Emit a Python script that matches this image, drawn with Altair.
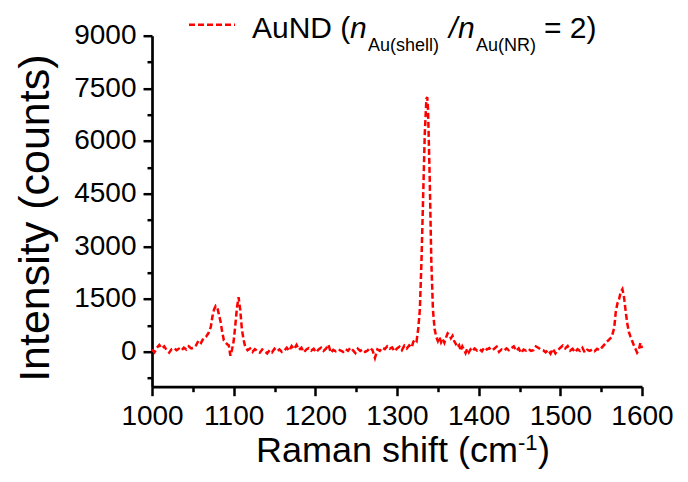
import altair as alt
import pandas as pd

# ---- data ----
raman_shift = [
    1000, 1003, 1006, 1009, 1012, 1015, 1018, 1021, 1024, 1027, 1030, 1033, 1036, 1039, 1042, 1045, 1048,
    1051, 1054, 1057, 1060, 1063, 1066, 1069, 1072, 1074, 1076, 1078, 1080, 1082, 1084, 1086, 1088, 1090,
    1092, 1094, 1096, 1098, 1100, 1102, 1104, 1106, 1108, 1110, 1112, 1114, 1117, 1120, 1123, 1126, 1129,
    1132, 1135, 1138, 1141, 1144, 1147, 1150, 1153, 1156, 1159, 1162, 1165, 1168, 1171, 1174, 1177, 1180,
    1183, 1186, 1189, 1192, 1195, 1198, 1201, 1204, 1207, 1210, 1213, 1216, 1219, 1222, 1225, 1228, 1231,
    1234, 1237, 1240, 1243, 1246, 1249, 1252, 1255, 1258, 1261, 1264, 1267, 1270, 1273, 1276, 1279, 1282,
    1285, 1288, 1291, 1294, 1297, 1300, 1303, 1306, 1309, 1312, 1315, 1318, 1320, 1322, 1324, 1326, 1328,
    1330, 1332, 1334, 1336, 1337, 1338, 1340, 1342, 1344, 1346, 1348, 1350, 1352, 1354, 1356, 1358, 1360,
    1362, 1364, 1366, 1368, 1370, 1372, 1374, 1376, 1378, 1380, 1382, 1384, 1386, 1388, 1390, 1392, 1395,
    1398, 1401, 1404, 1407, 1410, 1413, 1416, 1419, 1422, 1425, 1428, 1431, 1434, 1437, 1440, 1443, 1446,
    1449, 1452, 1455, 1458, 1461, 1464, 1467, 1470, 1473, 1476, 1479, 1482, 1485, 1488, 1491, 1494, 1497,
    1500, 1503, 1506, 1509, 1512, 1515, 1518, 1521, 1524, 1527, 1530, 1533, 1536, 1539, 1542, 1545, 1548,
    1551, 1554, 1557, 1560, 1563, 1566, 1568, 1570, 1572, 1574, 1576, 1578, 1580, 1582, 1584, 1586, 1588,
    1590, 1592, 1594, 1596, 1598, 1600,
]
intensity = [
    60, -20, 110, 190, 90, 150, 40, -30, 70, 100, 40, 80, 30, 110, 60, 150, 90,
    110, 180, 320, 250, 380, 420, 520, 700, 1000, 1200, 1300, 1250, 1050, 850, 550, 320, 260,
    210, 180, -120, 60, 300, 750, 1250, 1550, 1200, 650, 350, 150, 40, 90, -10, 70, 20,
    -30, 60, 10, -50, 40, -20, 80, 10, 60, -10, 30, 110, 20, 160, 70, 190, 50,
    110, -20, 60, 100, 30, 80, -20, 60, 110, 20, 80, 200, -30, 50, 10, 60, 30,
    -10, 70, 20, 110, 40, -40, 80, 20, 60, -10, 30, 110, 40, -180, 60, 20, 110,
    70, 150, 80, 120, 10, 90, 140, 40, 170, 90, 180, 120, 280, 350, 300, 650, 1200,
    2600, 4400, 6200, 7200, 7250, 6900, 5000, 2600, 1200, 650, 420, 300, 420, 260, 350, 250, 400,
    520, 480, 380, 450, 300, 220, 120, 180, 20, 150, 60, -40, 80, -20, 60, 0, 90,
    30, 70, 10, 120, 60, 100, 30, 80, 140, -10, 60, 20, 90, 40, 100, 150, 20,
    90, -40, 60, 30, 80, 20, 40, 150, 110, 60, 40, -20, 50, -60, 80, -50, 40,
    110, 170, 90, 160, 30, 80, -20, 70, 20, 110, -30, 50, 20, 60, 10, 80, 40,
    120, 200, 280, 350, 420, 680, 1150, 1380, 1500, 1700, 1780, 1550, 1150, 800, 550, 420, 300,
    180, 80, -30, 40, 250, 100,
]

x_major = [1000, 1100, 1200, 1300, 1400, 1500, 1600]
x_minor = [1050, 1150, 1250, 1350, 1450, 1550]
y_major = [0, 1500, 3000, 4500, 6000, 7500, 9000]
y_minor = [-750, 750, 2250, 3750, 5250, 6750, 8250]
x_domain = [1000, 1600]
y_domain = [-1000, 9000]

df = pd.DataFrame({"shift": raman_shift, "intensity": intensity})
ann = pd.DataFrame({"k": [0]})

FONT = "Liberation Sans"
RED = "#FF0000"

xs = alt.Scale(domain=x_domain, nice=False, zero=False)
ys = alt.Scale(domain=y_domain, nice=False, zero=False)

line = alt.Chart(df).mark_line(color=RED, strokeWidth=2.5, strokeDash=[6, 3]).encode(
    x=alt.X("shift:Q", scale=xs,
            axis=alt.Axis(orient="bottom", values=x_major, format="d", title=None, tickSize=9,
                          labelPadding=7, labelFlush=False, grid=False)),
    y=alt.Y("intensity:Q", scale=ys,
            axis=alt.Axis(orient="left", values=y_major, format="d", title="Intensity (counts)",
                          tickSize=9, labelPadding=7, grid=False,
                          titleFontSize=43, titleFont=FONT, titleFontWeight="normal",
                          titleAngle=270, titleX=-104, titleY=182, titleAlign="center",
                          titleBaseline="alphabetic", titleColor="black")),
)

minor = alt.Chart(df).mark_point(opacity=0).encode(
    x=alt.X("shift:Q", scale=xs,
            axis=alt.Axis(orient="bottom", values=x_minor, title=None, labels=False,
                          domain=False, tickSize=5, grid=False)),
    y=alt.Y("intensity:Q", scale=ys,
            axis=alt.Axis(orient="left", values=y_minor, title=None, labels=False,
                          domain=False, tickSize=5, grid=False)),
)


def txt(s, x, y, size, style="normal"):
    return alt.Chart(ann).mark_text(
        text=s, align="left", baseline="alphabetic", font=FONT, fontSize=size,
        fontStyle=style, color="black",
    ).encode(x=alt.value(x), y=alt.value(y))


legend_line = alt.Chart(ann).mark_rule(color=RED, strokeWidth=2.5, strokeDash=[6, 3]).encode(
    x=alt.value(37), x2=alt.value(83), y=alt.value(-11)
)

legend_parts = [
    txt("AuND (", 100, 2, 30),
    txt("n", 198, 2, 30, "italic"),
    txt("Au(shell)", 216, 15, 18),
    txt("/", 297, 2, 30, "italic"),
    txt("n", 306, 2, 30, "italic"),
    txt("Au(NR)", 324, 15, 18),
    txt("= 2)", 392, 2, 30),
]

xtitle_parts = [
    txt("Raman shift (cm", 104, 426, 36),
    txt("-1", 366, 414, 22),
    txt(")", 386, 426, 36),
]

chart = alt.layer(line, minor, legend_line, *legend_parts, *xtitle_parts).resolve_axis(
    x="independent", y="independent"
).properties(
    width=490, height=351,
    autosize=alt.AutoSizeParams(type="none"),
    padding={"left": 144, "top": 27.7, "right": 34, "bottom": 84},
).configure_view(stroke=None).configure_axis(
    domainColor="black", domainWidth=2.7, tickColor="black", tickWidth=2.5,
    labelFont=FONT, labelFontSize=28, labelColor="black",
)

chart.save("out.html", embed_options={"renderer": "svg", "actions": False})
